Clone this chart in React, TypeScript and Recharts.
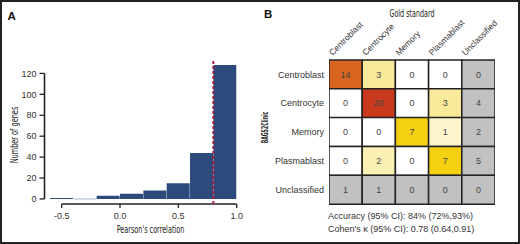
import React from 'react';
import { BarChart, Bar, XAxis, YAxis, ReferenceLine, Cell, LabelList } from 'recharts';

// ---------- Panel A data ----------
const binEdges = [-0.6, -0.4, -0.2, 0, 0.2, 0.4, 0.6, 0.8, 1.0];
const geneCounts = [1, 0, 3, 5, 8, 15, 44, 128];
const corrThreshold = 0.8;
const xTicks = [-0.5, 0, 0.5, 1.0];
const yTicks = [0, 20, 40, 60, 80, 100, 120];

// ---------- Panel B data ----------
const classNames = ['Centroblast', 'Centrocyte', 'Memory', 'Plasmablast', 'Unclassified'];
const countsCentroblast = [14, 3, 0, 0, 0];
const countsCentrocyte = [0, 20, 0, 3, 4];
const countsMemory = [0, 0, 7, 1, 2];
const countsPlasmablast = [0, 2, 0, 7, 5];
const countsUnclassified = [1, 1, 0, 0, 0];
const accuracyText = 'Accuracy (95% CI): 84% (72%,93%)';
const kappaText = "Cohen's \u03BA (95% CI): 0.78 (0.64,0.91)";

const rowCounts = [countsCentroblast, countsCentrocyte, countsMemory, countsPlasmablast, countsUnclassified];

const histData = geneCounts.map((c, i) => ({ mid: (binEdges[i] + binEdges[i + 1]) / 2, count: c }));
const emptyBins = geneCounts
  .map((c, i) => ({ c, x0: binEdges[i], x1: binEdges[i + 1] }))
  .filter((b) => b.c === 0);

const heatData = classNames.map((name, i) => {
  const o: any = { row: name };
  rowCounts[i].forEach((c, j) => {
    o['c' + j] = c;
    o['w' + j] = 1;
  });
  return o;
});

const SANS = "'Liberation Sans', Arial, Helvetica, sans-serif";
const NARROW = "'Liberation Sans Narrow', 'DejaVu Sans Condensed', 'Liberation Sans', sans-serif";

const X_MIN = -0.647;
const Y_MIN = -4.8;

// colour scale for counts
const stops: [number, number[]][] = [
  [0, [255, 255, 255]],
  [1, [253, 246, 204]],
  [3, [249, 233, 154]],
  [7, [245, 208, 16]],
  [14, [217, 102, 31]],
  [20, [201, 58, 28]],
];
function countColor(v: number) {
  for (let k = 0; k < stops.length - 1; k++) {
    const [a, ca] = stops[k];
    const [b, cb] = stops[k + 1];
    if (v <= b) {
      const t = (v - a) / (b - a);
      const c = ca.map((x, q) => Math.round(x + (cb[q] - x) * t));
      return `rgb(${c[0]},${c[1]},${c[2]})`;
    }
  }
  const l = stops[stops.length - 1][1];
  return `rgb(${l[0]},${l[1]},${l[2]})`;
}
function cellColor(i: number, j: number, v: number) {
  const last = classNames.length - 1;
  if (i === last || j === last) return '#c1c1c1';
  return countColor(v);
}

const ColTick = (props: any) => {
  const { x, y, payload } = props;
  const name = classNames[Math.floor(payload.value)];
  return (
    <text
      transform={`translate(${x - 13},${y - 4}) rotate(-45)`}
      textAnchor="start"
      fontSize={8.5}
      fill="#333"
      fontFamily={SANS}
    >
      {name}
    </text>
  );
};

const narrowStyle = { fontStretch: 'condensed' as const };

export default function App() {
  return (
    <div style={{ position: 'absolute', left: 0, top: 0, width: 520, height: 244, background: '#fff' }}>
      <div style={{ position: 'absolute', left: 0, top: 0 }}>
        <BarChart
          width={260}
          height={244}
          data={histData}
          margin={{ top: 60, right: 23.3, bottom: 10, left: 14.5 }}
          barCategoryGap={0}
          barGap={0}
        >
          <XAxis
            dataKey="mid"
            type="number"
            domain={[X_MIN, 1.0]}
            allowDataOverflow
            ticks={xTicks}
            interval={0}
            tickFormatter={(v: number) => v.toFixed(1)}
            axisLine={false}
            tickSize={4}
            tickMargin={5}
            height={30}
            tick={{ fontSize: 9, fill: '#333', fontFamily: SANS }}
            tickLine={{ stroke: '#222', strokeWidth: 1.3 }}
          />
          <YAxis
            type="number"
            domain={[Y_MIN, 132.8]}
            allowDataOverflow
            ticks={yTicks}
            interval={0}
            width={30}
            axisLine={false}
            tickSize={5}
            tickMargin={3}
            tick={{ fontSize: 9, fill: '#333', fontFamily: SANS }}
            tickLine={{ stroke: '#222', strokeWidth: 1.3 }}
          />
          <Bar dataKey="count" fill="#2d4a7c" isAnimationActive={false} />
          {emptyBins.map((b, k) => (
            <ReferenceLine
              key={k}
              segment={[{ x: b.x0, y: 0 }, { x: b.x1, y: 0 }]}
              stroke="#a9b6cc"
              strokeWidth={1}
              ifOverflow="visible"
            />
          ))}
          <ReferenceLine
            segment={[{ x: xTicks[0], y: Y_MIN }, { x: xTicks[xTicks.length - 1], y: Y_MIN }]}
            stroke="#222"
            strokeWidth={1.6}
            ifOverflow="visible"
          />
          <ReferenceLine
            segment={[{ x: X_MIN, y: yTicks[0] }, { x: X_MIN, y: yTicks[yTicks.length - 1] }]}
            stroke="#222"
            strokeWidth={1.6}
            ifOverflow="visible"
          />
          <ReferenceLine x={corrThreshold} stroke="#a3203f" strokeWidth={2} strokeDasharray="3 2" ifOverflow="visible" />
        </BarChart>
      </div>
      <div style={{ position: 'absolute', left: 260, top: 0 }}>
        <BarChart
          layout="vertical"
          width={260}
          height={244}
          data={heatData}
          margin={{ top: 40, right: 25, bottom: 40, left: 29 }}
          barCategoryGap={0}
          barGap={0}
        >
          <XAxis
            type="number"
            orientation="top"
            domain={[0, classNames.length]}
            ticks={classNames.map((_, j) => j + 0.5)}
            interval={0}
            height={20}
            axisLine={false}
            tickLine={false}
            tickSize={0}
            tickMargin={0}
            tick={<ColTick />}
            allowDataOverflow
          />
          <YAxis
            type="category"
            dataKey="row"
            width={40}
            axisLine={false}
            tickLine={false}
            tickSize={3}
            tickMargin={2}
            interval={0}
            tick={{ fontSize: 9, fill: '#333', fontFamily: SANS }}
          />
          {classNames.map((_, j) => (
            <Bar
              key={j}
              dataKey={'w' + j}
              stackId="m"
              isAnimationActive={false}
              stroke="#222"
              strokeWidth={1.5}
            >
              {heatData.map((d, i) => (
                <Cell key={i} fill={cellColor(i, j, d['c' + j])} />
              ))}
              <LabelList dataKey={'c' + j} position="center" fill="#444" fontSize={9} fontFamily={SANS} />
            </Bar>
          ))}
        </BarChart>
      </div>
      <svg width={520} height={244} style={{ position: 'absolute', left: 0, top: 0, pointerEvents: 'none' }}>
        <text x={7.5} y={19.5} fontSize={11.5} fontWeight="bold" fontFamily={SANS} fill="#111">A</text>
        <text x={264} y={18} fontSize={11.5} fontWeight="bold" fontFamily={SANS} fill="#111">B</text>
        <text x={389.5} y={16.5} fontSize={10} textLength={45} lengthAdjust="spacingAndGlyphs" fontFamily={NARROW} fill="#222" style={narrowStyle}>Gold standard</text>
        <text x={116.7} y={233} fontSize={10.5} textLength={67.6} lengthAdjust="spacingAndGlyphs" fontFamily={NARROW} fill="#222" style={narrowStyle}>Pearson's correlation</text>
        <text transform="translate(17.5,163.3) rotate(-90)" fontSize={10.5} textLength={56.6} lengthAdjust="spacingAndGlyphs" fontFamily={NARROW} fill="#222" style={narrowStyle}>Number of genes</text>
        <text transform="translate(267.5,143.3) rotate(-90)" fontSize={9} textLength={31.6} lengthAdjust="spacingAndGlyphs" fontFamily={NARROW} fontWeight="bold" fill="#222" style={narrowStyle}>BAGS2Clinic</text>
        <text x={328} y={219} fontSize={9} fontFamily={SANS} fill="#333">{accuracyText}</text>
        <text x={328} y={232} fontSize={9} fontFamily={SANS} fill="#333">{kappaText}</text>
      </svg>
      <div style={{ position: 'absolute', left: 0, top: 0, width: 520, height: 244, boxSizing: 'border-box', border: '2px solid #222', pointerEvents: 'none' }} />
    </div>
  );
}
